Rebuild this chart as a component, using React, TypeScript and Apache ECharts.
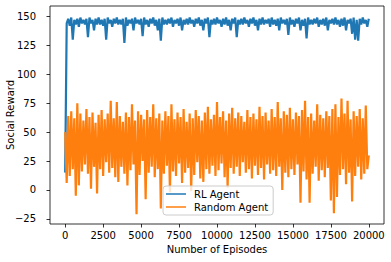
import React, { useEffect, useRef } from "react";
import * as echarts from "echarts";

// Episode spacing between recorded points
const episodeStep = 100;

// RL Agent social reward (one value every episodeStep episodes)
const rlReward = [
  15, 144, 148, 142, 149, 130, 147, 143, 148, 141,
  149, 144, 147, 143, 148, 132, 149, 144, 147, 138,
  148, 143, 149, 143, 147, 142, 148, 130, 149, 144,
  147, 141, 148, 144, 149, 143, 147, 143, 148, 127,
  149, 142, 147, 144, 148, 138, 149, 144, 147, 143,
  148, 133, 149, 143, 147, 141, 148, 144, 149, 142,
  147, 138, 148, 129, 149, 143, 147, 143, 148, 144,
  149, 141, 147, 144, 148, 142, 149, 138, 147, 143,
  148, 143, 149, 144, 147, 141, 148, 144, 149, 142,
  147, 138, 148, 144, 149, 132, 147, 143, 148, 143,
  149, 144, 147, 141, 148, 143, 149, 142, 147, 138,
  148, 144, 149, 132, 147, 143, 148, 143, 149, 144,
  147, 141, 148, 144, 149, 142, 147, 138, 148, 143,
  149, 143, 147, 144, 148, 141, 149, 143, 147, 142,
  148, 138, 149, 144, 147, 143, 148, 134, 149, 143,
  147, 141, 148, 144, 149, 138, 147, 142, 148, 131,
  149, 143, 147, 143, 148, 144, 149, 141, 147, 143,
  148, 142, 149, 138, 147, 144, 148, 143, 149, 143,
  147, 141, 148, 142, 149, 138, 147, 144, 148, 135,
  149, 130, 147, 129, 148, 143, 149, 144, 147, 141,
  148,
];

// Random Agent social reward (one value every episodeStep episodes)
const randomReward = [
  50, 6, 64, 12, 68, 18, 62, -5, 75, 4,
  66, 16, 60, 22, 70, 14, 63, 1, 67, 20,
  58, -3, 65, 18, 69, 12, 61, 24, 66, 15,
  77, 19, 62, 11, 76, 7, 64, 20, 59, 14,
  67, 4, 63, 17, 74, 22, 60, -21, 68, 13,
  65, 25, 61, -8, 69, 15, 63, 20, 74, 11,
  62, 18, 66, -16, 60, 14, 68, 21, 64, -2,
  74, 16, 61, 12, 67, 23, 63, 6, 70, 15,
  59, 19, 66, -1, 62, 13, 69, 24, 64, 10,
  60, 7, 67, 18, 72, 14, 61, 21, 65, 12,
  76, 17, 63, 23, 68, 11, 60, 2, 66, 19,
  71, 14, 62, 20, 67, 12, 64, 24, 59, 15,
  69, 18, 63, 10, 66, 21, 61, 13, 72, 19,
  64, 9, 67, 22, 60, 14, 70, 17, 63, 12,
  76, 20, 62, 0, 68, 15, 65, 11, 71, 18,
  61, 13, 67, 22, 64, -11, 69, 16, 77, 9,
  63, -11, 66, 14, 60, 20, 74, 8, 65, 17,
  62, 11, 68, 19, 64, -9, 70, -20, 74, -6,
  63, 13, 79, 18, 66, 5, 77, 15, 61, -10,
  68, 12, 64, 20, 70, 9, 62, 14, 73, 18,
  30,
];

const xTicks = [0, 2500, 5000, 7500, 10000, 12500, 15000, 17500, 20000];
const yTicks = [-25, 0, 25, 50, 75, 100, 125, 150];

const FONT = "DejaVu Sans";

const fmt = (v: number) => (v < 0 ? "\u2212" + Math.abs(v) : String(v));

export default function App() {
  const ref = useRef<HTMLDivElement>(null);

  useEffect(() => {
    if (!ref.current) return;
    const chart = echarts.init(ref.current, undefined, { renderer: "svg" });
    const tickStyle = { color: "#000", width: 0.8 };
    chart.setOption({
      animation: false,
      backgroundColor: "#fff",
      grid: {
        left: 50,
        top: 6,
        width: 334,
        height: 218,
        show: true,
        borderColor: "#000",
        borderWidth: 0.8,
        backgroundColor: "transparent",
        containLabel: false,
        outerBoundsMode: "none",
      },
      legend: {
        data: ["RL Agent", "Random Agent"],
        left: 163,
        top: 186,
        orient: "vertical",
        icon: "rect",
        itemWidth: 20,
        itemHeight: 1.5,
        itemGap: 3,
        padding: [3, 5, 3, 3],
        backgroundColor: "rgba(255,255,255,0.8)",
        borderColor: "#cccccc",
        borderWidth: 1,
        borderRadius: 3,
        textStyle: { fontFamily: FONT, fontSize: 10, color: "#000", padding: [0, 0, 0, 3] },
      },
      xAxis: {
        type: "value",
        min: -1000,
        max: 21000,
        name: "Number of Episodes",
        nameLocation: "middle",
        nameGap: 20,
        nameMoveOverlap: false,
        nameTextStyle: { fontFamily: FONT, fontSize: 10, color: "#000" },
        splitLine: { show: false },
        axisLine: { show: false, onZero: false },
        axisTick: { show: true, length: 3.5, lineStyle: tickStyle, customValues: xTicks },
        axisLabel: {
          customValues: xTicks,
          fontFamily: FONT,
          fontSize: 10,
          color: "#000",
          margin: 6,
          formatter: (v: number) => fmt(v),
        },
      },
      yAxis: {
        type: "value",
        min: -29.4,
        max: 159,
        name: "Social Reward",
        nameLocation: "middle",
        nameGap: 35,
        nameMoveOverlap: false,
        nameTextStyle: { fontFamily: FONT, fontSize: 10, color: "#000" },
        splitLine: { show: false },
        axisLine: { show: false, onZero: false },
        axisTick: { show: true, length: 3.5, lineStyle: tickStyle, customValues: yTicks },
        axisLabel: {
          customValues: yTicks,
          fontFamily: FONT,
          fontSize: 10,
          color: "#000",
          margin: 8,
          padding: [0, 6, 0, 0],
          formatter: (v: number) => fmt(v),
        },
      },
      series: [
        {
          name: "RL Agent",
          type: "line",
          symbol: "none",
          color: "#1f77b4",
          lineStyle: { color: "#1f77b4", width: 2.2, join: "bevel" },
          data: rlReward.map((v, i) => [i * episodeStep, v]),
        },
        {
          name: "Random Agent",
          type: "line",
          symbol: "none",
          color: "#ff7f0e",
          lineStyle: { color: "#ff7f0e", width: 2.2, join: "bevel" },
          data: randomReward.map((v, i) => [i * episodeStep, v]),
        },
      ],
    });
    return () => chart.dispose();
  }, []);

  return (
    <div
      ref={ref}
      style={{ position: "fixed", left: 0, top: 0, width: 391, height: 262, background: "#fff" }}
    />
  );
}
